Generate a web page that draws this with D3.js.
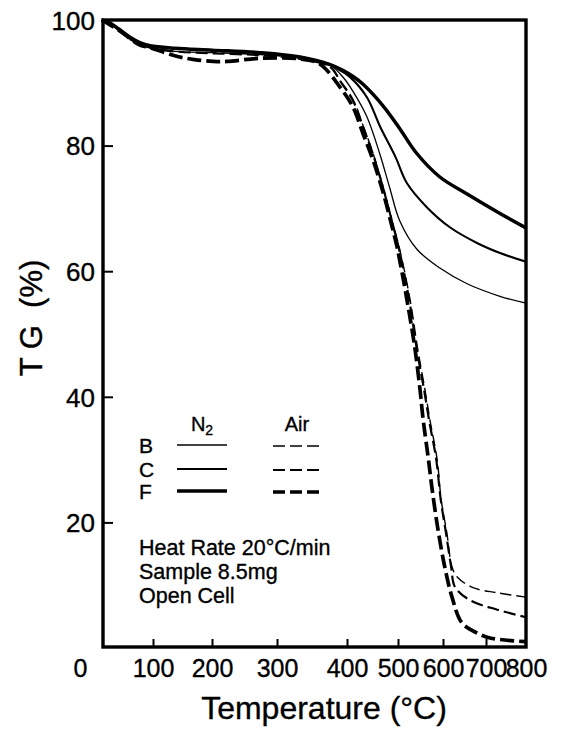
<!DOCTYPE html>
<html>
<head>
<meta charset="utf-8">
<script src="https://cdn.jsdelivr.net/npm/d3@7"></script>
<style>
  html, body { margin: 0; padding: 0; background: #fff; }
  svg { display: block; }
  text { font-family: "Liberation Sans", Arial, Helvetica, sans-serif; fill: #000; stroke: #000; stroke-width: 0.35px; }
</style>
</head>
<body>
<svg id="chart" width="562" height="737"></svg>
<script>
// ---------------- data ----------------
const xTickValues = [0, 100, 200, 300, 400, 500, 600, 700, 800];
const yTickValues = [20, 40, 60, 80, 100];

// N2 atmosphere (solid lines): [temperature °C, TG %]
const n2B = [[30,100],[41,99.5],[55,98.4],[68,97.3],[82,96.4],[96,95.9],[137,95.5],[200,95.2],[274,94.8],[333,94.1],[376,92.8],[395,90.8],[412,88.6],[439,84.6],[465,78.5],[484,73.2],[504,68.0],[542,63.5],[593,60.5],[656,58.0],[735,56.0],[800,54.9]];
const n2C = [[30,100],[41,99.5],[55,98.4],[68,97.3],[82,96.4],[96,95.9],[137,95.5],[200,95.2],[274,94.8],[333,94.1],[376,92.9],[390,92.0],[406,90.9],[439,87.7],[465,83.0],[495,78.2],[520,74.0],[564,70.2],[616,67.0],[679,64.5],[735,62.9],[800,61.5]];
const n2F = [[30,100],[41,99.5],[55,98.4],[68,97.3],[82,96.4],[96,95.9],[137,95.5],[200,95.2],[274,94.8],[333,94.1],[376,92.9],[394,92.0],[412,91.0],[431,89.8],[471,86.3],[504,82.7],[540,78.9],[593,75.0],[656,72.3],[735,69.2],[800,66.9]];

// Air atmosphere (dashed lines)
const airB = [[30,100],[41,99.4],[55,98.2],[68,97.0],[82,96.2],[96,95.6],[137,95.0],[200,94.8],[274,94.5],[333,93.9],[376,92.6],[390,90.4],[412,87.3],[431,83.3],[451,78.8],[471,73.4],[488,68.2],[504,63.4],[527,55.4],[544,47.5],[560,41.1],[571,36.3],[587,30.0],[596,23.6],[609,18.3],[621,12.9],[633,11.3],[670,9.6],[728,8.8],[800,8.1]];
const airC = [[30,100],[41,99.4],[55,98.2],[68,97.0],[82,96.2],[96,95.6],[137,95.0],[200,94.7],[274,94.4],[333,93.8],[376,92.5],[390,90.3],[412,87.1],[431,83.1],[451,78.6],[471,73.2],[488,68.0],[504,63.0],[525,55.4],[542,47.5],[558,41.1],[569,36.3],[585,30.0],[595,23.6],[607,18.3],[619,12.9],[628,9.7],[663,7.6],[728,6.1],[800,4.9]];
const airF = [[30,100],[55,98.2],[82,96.0],[96,95.6],[137,94.3],[170,93.7],[202,93.4],[223,93.4],[274,93.9],[333,93.8],[361,93.0],[390,89.3],[412,86.1],[431,82.0],[451,77.7],[471,72.5],[488,67.2],[498,63.9],[520,55.4],[538,47.5],[549,41.1],[556,36.3],[567,30.4],[576,25.2],[589,18.8],[605,12.6],[621,8.1],[644,4.0],[679,2.4],[710,1.6],[800,1.0]];

const legendRows = ["B", "C", "F"];
const legendCols = ["N2", "Air"];
const noteLines = ["Heat Rate 20\u00B0C/min", "Sample 8.5mg", "Open Cell"];

// ---------------- layout ----------------
const xTickPos = [80, 153, 212, 277, 347, 398, 443, 486, 526]; // axis as printed (non-uniform)
const plot = { left: 103, right: 526, top: 20, bottom: 647 };

const svg = d3.select("#chart");

const x = d3.scaleLinear().domain(xTickValues).range(xTickPos);
const y = d3.scaleLinear().domain([0, 100]).range([648, 20]);

// frame
svg.append("rect")
  .attr("x", plot.left).attr("y", plot.top)
  .attr("width", plot.right - plot.left).attr("height", plot.bottom - plot.top)
  .attr("fill", "none").attr("stroke", "#000").attr("stroke-width", 3.4);

// y axis
const yAxis = svg.append("g").attr("transform", `translate(${plot.left},0)`)
  .call(d3.axisLeft(y).tickValues(yTickValues).tickSizeInner(-10).tickSizeOuter(0).tickPadding(8));
yAxis.select(".domain").remove();
yAxis.selectAll(".tick line").attr("stroke", "#000").attr("stroke-width", 2)
  .filter(d => d === 100).remove();
yAxis.selectAll(".tick text").style("font-size", "26px").attr("dy", "0.36em");

// x axis
const xAxis = svg.append("g").attr("transform", `translate(0,${plot.bottom})`)
  .call(d3.axisBottom(x).tickValues(xTickValues).tickSizeInner(-8).tickSizeOuter(0).tickPadding(12));
xAxis.select(".domain").remove();
xAxis.selectAll(".tick line").attr("stroke", "#000").attr("stroke-width", 2)
  .filter(d => d === 0 || d === 800).remove();
xAxis.selectAll(".tick text").style("font-size", "25px");

// axis titles
svg.append("text")
  .attr("x", 324).attr("y", 719)
  .attr("text-anchor", "middle")
  .style("font-size", "32px")
  .text("Temperature (\u00B0C)");

svg.append("text")
  .attr("transform", "translate(42,318) rotate(-90)")
  .attr("text-anchor", "middle")
  .style("font-size", "31px")
  .attr("xml:space", "preserve")
  .style("white-space", "pre")
  .text("T G  (%)");

// curves
const line = d3.line().x(d => x(d[0])).y(d => y(d[1])).curve(d3.curveCatmullRom.alpha(0.5));

const series = [
  { data: n2B, w: 1.3, dash: null },
  { data: n2C, w: 2.1, dash: null },
  { data: n2F, w: 3.5, dash: null },
  { data: airB, w: 1.4, dash: "11,5" },
  { data: airC, w: 2.2, dash: "12,5" },
  { data: airF, w: 3.7, dash: "14,5" }
];

svg.append("g").selectAll("path").data(series).join("path")
  .attr("d", s => line(s.data))
  .attr("fill", "none")
  .attr("stroke", "#000")
  .attr("stroke-width", s => s.w)
  .attr("stroke-dasharray", s => s.dash)
  .attr("stroke-linejoin", "round");

// legend
const lg = svg.append("g");
const colX = [202, 297];
const rowY = [445, 469, 491];

// column headers
const hN = lg.append("text").attr("x", colX[0]).attr("y", 431).attr("text-anchor", "middle").style("font-size", "20px");
hN.append("tspan").text(legendCols[0].charAt(0));
hN.append("tspan").attr("dy", 4).style("font-size", "14px").text(legendCols[0].slice(1));
lg.append("text").attr("x", colX[1]).attr("y", 431).attr("text-anchor", "middle").style("font-size", "20px").text(legendCols[1]);

legendRows.forEach((r, i) => {
  lg.append("text").attr("x", 139).attr("y", rowY[i] + 8).style("font-size", "21px").text(r);
  lg.append("line").attr("x1", 177).attr("x2", 227).attr("y1", rowY[i]).attr("y2", rowY[i])
    .attr("stroke", "#000").attr("stroke-width", series[i].w);
  lg.append("line").attr("x1", 273).attr("x2", 322).attr("y1", rowY[i] + 1).attr("y2", rowY[i] + 1)
    .attr("stroke", "#000").attr("stroke-width", series[i + 3].w).attr("stroke-dasharray", "12,5");
});

// notes
noteLines.forEach((t, i) => {
  lg.append("text").attr("x", 139).attr("y", 555 + i * 24).style("font-size", "21.5px").text(t);
});
</script>
</body>
</html>
